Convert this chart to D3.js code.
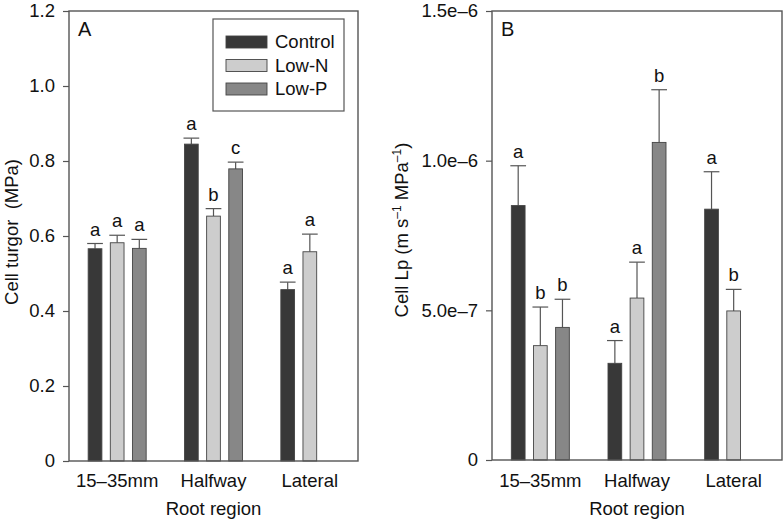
<!DOCTYPE html>
<html>
<head>
<meta charset="utf-8">
<script src="https://cdn.jsdelivr.net/npm/d3@7"></script>
<style>
  html, body { margin: 0; padding: 0; background: #fff; }
  svg { display: block; font-family: "Liberation Sans", Arial, Helvetica, sans-serif; }
</style>
</head>
<body>
<svg id="chart" width="784" height="522"></svg>
<script>
// ---- data ----
const categories = ["15–35mm", "Halfway", "Lateral"];
const seriesNames = ["Control", "Low-N", "Low-P"];
const seriesColors = ["#383838", "#cdcdcd", "#878787"];

// Panel A: cell turgor (MPa)
const turgorControl = [0.566, 0.845, 0.457];
const turgorLowN    = [0.582, 0.653, 0.558];
const turgorLowP    = [0.567, 0.779, null];
const turgorErrControl = [0.014, 0.016, 0.020];
const turgorErrLowN    = [0.020, 0.020, 0.047];
const turgorErrLowP    = [0.024, 0.018, null];
const turgorLetControl = ["a", "a", "a"];
const turgorLetLowN    = ["a", "b", "a"];
const turgorLetLowP    = ["a", "c", null];
const turgorTicks = [0, 0.2, 0.4, 0.6, 0.8, 1.0, 1.2];
const turgorTickLabels = ["0", "0.2", "0.4", "0.6", "0.8", "1.0", "1.2"];

// Panel B: cell Lp (m s-1 MPa-1)
const lpControl = [8.50e-7, 3.23e-7, 8.38e-7];
const lpLowN    = [3.82e-7, 5.41e-7, 4.98e-7];
const lpLowP    = [4.43e-7, 1.061e-6, null];
const lpErrControl = [1.33e-7, 0.76e-7, 1.25e-7];
const lpErrLowN    = [1.29e-7, 1.20e-7, 0.72e-7];
const lpErrLowP    = [0.94e-7, 1.76e-7, null];
const lpLetControl = ["a", "a", "a"];
const lpLetLowN    = ["b", "a", "b"];
const lpLetLowP    = ["b", "b", null];
const lpTicks = [0, 5e-7, 1e-6, 1.5e-6];
const lpTickLabels = ["0", "5.0e–7", "1.0e–6", "1.5e–6"];

const svg = d3.select("#chart");
const frameColor = "#555";
const FS = "18.5px";

function buildRows(vals, errs, lets) {
  const rows = [];
  vals.forEach((v, s) => {
    categories.forEach((c, i) => {
      if (v[i] != null) rows.push({cat: c, s, v: v[i], e: errs[s][i], l: lets[s][i]});
    });
  });
  return rows;
}

function panel(opt) {
  const g = svg.append("g");
  const x = d3.scaleBand().domain(categories).range([opt.x0, opt.x1]).padding(0);
  const y = d3.scaleLinear().domain([0, opt.max]).range([opt.y1, opt.y0]);
  const sub = d3.scaleBand().domain(seriesNames).range([-29, 29]).paddingInner(0.38).paddingOuter(0);

  // y axis (ticks outward + labels)
  const axis = d3.axisLeft(y).tickValues(opt.ticks).tickSize(6).tickPadding(8)
    .tickFormat((d, i) => opt.tickLabels[i]);
  const ag = g.append("g").attr("transform", `translate(${opt.x0},0)`).call(axis);
  ag.select(".domain").remove();
  ag.selectAll(".tick line").attr("stroke", frameColor).attr("stroke-width", 1.2);
  ag.selectAll(".tick text").attr("fill", "#111").style("font-size", FS)
    .style("font-family", "'Liberation Sans', Arial, sans-serif");

  // x category labels
  g.selectAll("text.cat").data(categories).join("text")
    .attr("class", "cat")
    .attr("x", d => x(d) + x.bandwidth() / 2)
    .attr("y", 487)
    .attr("text-anchor", "middle")
    .attr("fill", "#111")
    .style("font-size", FS)
    .text(d => d);

  const rows = buildRows(opt.vals, opt.errs, opt.lets);
  const cx = d => x(d.cat) + x.bandwidth() / 2 + sub(seriesNames[d.s]);

  // error bars (upper only)
  const eg = g.append("g").attr("stroke", frameColor).attr("stroke-width", 1.2);
  eg.selectAll("line.v").data(rows).join("line").attr("class", "v")
    .attr("x1", d => cx(d) + sub.bandwidth() / 2).attr("x2", d => cx(d) + sub.bandwidth() / 2)
    .attr("y1", d => y(d.v)).attr("y2", d => y(d.v + d.e));
  eg.selectAll("line.cap").data(rows).join("line").attr("class", "cap")
    .attr("x1", d => cx(d) - 1).attr("x2", d => cx(d) + sub.bandwidth() + 1)
    .attr("y1", d => y(d.v + d.e)).attr("y2", d => y(d.v + d.e));

  // bars
  g.selectAll("rect.bar").data(rows).join("rect").attr("class", "bar")
    .attr("x", d => cx(d))
    .attr("width", sub.bandwidth())
    .attr("y", d => y(d.v))
    .attr("height", d => y(0) - y(d.v))
    .attr("fill", d => seriesColors[d.s])
    .attr("stroke", "#444").attr("stroke-width", 0.9);

  // significance letters
  g.selectAll("text.let").data(rows).join("text").attr("class", "let")
    .attr("x", d => cx(d) + sub.bandwidth() / 2)
    .attr("y", d => y(d.v + d.e) - 8)
    .attr("text-anchor", "middle")
    .attr("fill", "#111")
    .style("font-size", FS)
    .text(d => d.l);

  // frame
  g.append("rect").attr("x", opt.x0).attr("y", opt.y0)
    .attr("width", opt.x1 - opt.x0).attr("height", opt.y1 - opt.y0)
    .attr("fill", "none").attr("stroke", frameColor).attr("stroke-width", 1.4);

  // panel letter
  g.append("text").attr("x", opt.x0 + 9).attr("y", 36)
    .attr("fill", "#111").style("font-size", "20px").text(opt.letter);

  // x title
  g.append("text").attr("x", (opt.x0 + opt.x1) / 2).attr("y", 515)
    .attr("text-anchor", "middle").attr("fill", "#111").style("font-size", FS)
    .text("Root region");

  return {g, x, y};
}

const A = panel({
  x0: 69, x1: 358, y0: 11, y1: 461, max: 1.2,
  ticks: turgorTicks, tickLabels: turgorTickLabels,
  vals: [turgorControl, turgorLowN, turgorLowP],
  errs: [turgorErrControl, turgorErrLowN, turgorErrLowP],
  lets: [turgorLetControl, turgorLetLowN, turgorLetLowP],
  letter: "A"
});

const B = panel({
  x0: 492, x1: 782, y0: 11, y1: 460, max: 1.5e-6,
  ticks: lpTicks, tickLabels: lpTickLabels,
  vals: [lpControl, lpLowN, lpLowP],
  errs: [lpErrControl, lpErrLowN, lpErrLowP],
  lets: [lpLetControl, lpLetLowN, lpLetLowP],
  letter: "B"
});

// y titles
svg.append("text")
  .attr("transform", "translate(18,232) rotate(-90)")
  .attr("text-anchor", "middle").attr("fill", "#111").style("font-size", FS)
  .text("Cell turgor\u00a0 (MPa)");

const tB = svg.append("text")
  .attr("transform", "translate(408,230) rotate(-90)")
  .attr("text-anchor", "middle").attr("fill", "#111").style("font-size", FS);
tB.append("tspan").text("Cell Lp (m s");
tB.append("tspan").attr("dy", -7).style("font-size", "12px").text("–1");
tB.append("tspan").attr("dy", 7).text(" MPa");
tB.append("tspan").attr("dy", -7).style("font-size", "12px").text("–1");
tB.append("tspan").attr("dy", 7).text(")");

// legend
const lg = svg.append("g");
lg.append("rect").attr("x", 213).attr("y", 19).attr("width", 131).attr("height", 92)
  .attr("fill", "#fff").attr("stroke", frameColor).attr("stroke-width", 1.2);
const legY = d3.scalePoint().domain(seriesNames).range([42, 89]);
lg.selectAll("rect.sw").data(seriesNames).join("rect").attr("class", "sw")
  .attr("x", 226).attr("y", d => legY(d) - 6).attr("width", 41).attr("height", 12)
  .attr("fill", (d, i) => seriesColors[i]).attr("stroke", "#444").attr("stroke-width", 0.9);
lg.selectAll("text.lt").data(seriesNames).join("text").attr("class", "lt")
  .attr("x", 275).attr("y", d => legY(d) + 6)
  .attr("fill", "#111").style("font-size", FS).text(d => d);
</script>
</body>
</html>
